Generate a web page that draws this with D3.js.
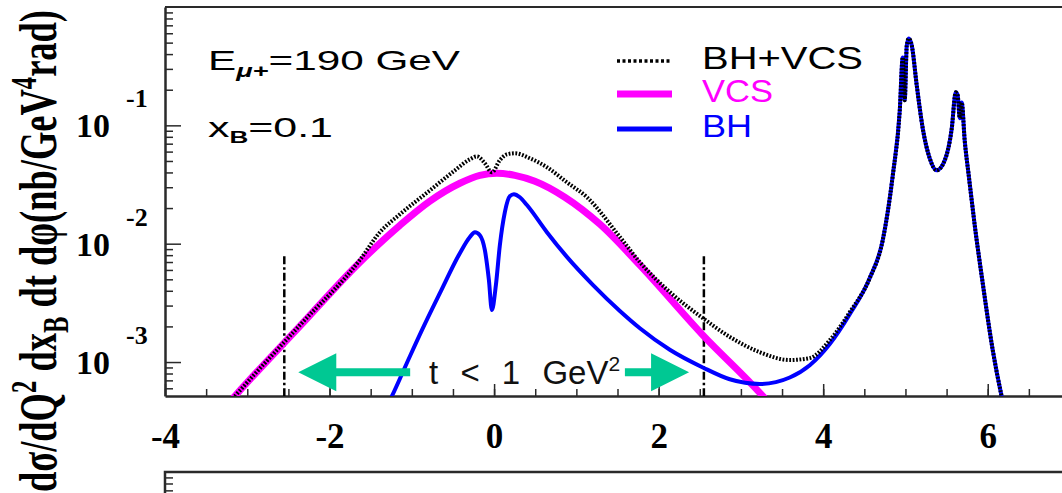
<!DOCTYPE html>
<html>
<head>
<meta charset="utf-8">
<script src="https://cdn.jsdelivr.net/npm/d3@7"></script>
<style>
  body { margin: 0; background: #fff; }
  svg { display: block; }
</style>
</head>
<body>
<svg id="chart" width="1062" height="493"></svg>
<script>
// axis ranges and ticks
const xDomain = [-4, 7];
const yDomain = [Math.pow(10, -3.287), 1];
const xTickValues = [-4, -2, 0, 2, 4, 6];
const yDecades = [-1, -2, -3];

// curves: [phi, cross section]
const vcs = [
  [-3.234, 4.42e-4], [-3.149, 5.16e-4], [-2.360, 2.01e-3], [-1.631, 6.98e-3],
  [-1.145, 1.43e-2], [-0.780, 2.29e-2], [-0.416, 3.24e-2], [-0.173, 3.78e-2],
  [0.034, 3.94e-2], [0.253, 3.78e-2], [0.496, 3.37e-2], [0.860, 2.47e-2],
  [1.286, 1.46e-2], [1.772, 6.59e-3], [2.537, 1.69e-3], [3.266, 5.16e-4],
  [3.351, 4.42e-4]
];

const bh = [
  [-1.303, 4.26e-4], [-1.242, 5.16e-4], [-1.060, 9.82e-4], [-0.877, 1.86e-3],
  [-0.659, 3.82e-3], [-0.416, 8.32e-3], [-0.294, 1.14e-2], [-0.233, 1.25e-2],
  [-0.173, 1.18e-2], [-0.112, 8.81e-3], [-0.063, 4.92e-3], [-0.027, 2.75e-3],
  [0.022, 4.47e-3], [0.070, 9.70e-3], [0.131, 1.85e-2], [0.192, 2.52e-2],
  [0.241, 2.62e-2], [0.313, 2.47e-2], [0.399, 2.12e-2], [0.642, 1.25e-2],
  [0.885, 7.73e-3], [1.200, 4.49e-3], [1.529, 2.70e-3], [1.772, 1.93e-3],
  [2.136, 1.27e-3], [2.537, 9.0e-4], [2.865, 7.15e-4], [3.230, 6.52e-4],
  [3.594, 7.4e-4], [3.837, 9.4e-4], [4.080, 1.42e-3], [4.323, 2.54e-3],
  [4.566, 5.12e-3], [4.724, 1.07e-2], [4.846, 3.78e-2], [4.931, 0.134],
  [4.967, 0.375], [4.991, 0.163], [5.016, 0.473], [5.040, 0.542],
  [5.077, 0.473], [5.137, 0.218], [5.210, 9.44e-2], [5.295, 5.27e-2],
  [5.380, 4.17e-2], [5.478, 5.07e-2], [5.563, 9.44e-2], [5.611, 0.190],
  [5.635, 0.179], [5.660, 0.115], [5.684, 0.156], [5.720, 7.47e-2],
  [5.769, 3.78e-2], [5.842, 1.43e-2], [5.939, 4.65e-3], [6.061, 1.26e-3],
  [6.170, 5.1e-4], [6.195, 4.26e-4]
];

const bhVcs = [
  [-3.234, 4.42e-4], [-3.149, 5.16e-4], [-2.360, 2.05e-3], [-1.631, 7.30e-3],
  [-1.388, 1.25e-2], [-1.145, 1.77e-2], [-0.780, 2.82e-2], [-0.476, 4.17e-2],
  [-0.294, 5.17e-2], [-0.209, 5.47e-2], [-0.112, 4.78e-2], [-0.027, 4.01e-2],
  [0.070, 5.07e-2], [0.155, 5.69e-2], [0.253, 5.81e-2], [0.435, 5.27e-2],
  [0.642, 4.43e-2], [0.885, 3.30e-2], [1.128, 2.47e-2], [1.529, 1.14e-2],
  [1.772, 6.98e-3], [2.136, 3.90e-3], [2.537, 2.35e-3], [2.865, 1.63e-3],
  [3.230, 1.21e-3], [3.594, 1.04e-3], [3.837, 1.08e-3], [4.080, 1.53e-3],
  [4.323, 2.64e-3], [4.566, 5.12e-3], [4.724, 1.07e-2], [4.846, 3.78e-2],
  [4.931, 0.134], [4.967, 0.375], [4.991, 0.163], [5.016, 0.473],
  [5.040, 0.542], [5.077, 0.473], [5.137, 0.218], [5.210, 9.44e-2],
  [5.295, 5.27e-2], [5.380, 4.17e-2], [5.478, 5.07e-2], [5.563, 9.44e-2],
  [5.611, 0.190], [5.635, 0.179], [5.660, 0.115], [5.684, 0.156],
  [5.720, 7.47e-2], [5.769, 3.78e-2], [5.842, 1.43e-2], [5.939, 4.65e-3],
  [6.061, 1.26e-3], [6.170, 5.1e-4], [6.195, 4.26e-4]
];

// t < 1 GeV^2 cut markers
const cutPhi = [-2.55, 2.55];
const cutTop = 7.85e-3;
const arrowLeft = [-1.02, -2.38];   // [tail, tip]
const arrowRight = [1.59, 2.37];
const arrowY = 8.2e-4;

const legendNames = ["BH+VCS", "VCS", "BH"];
const legendColors = ["#000", "#ff00ff", "#0000ff"];

const svg = d3.select("#chart");
const plotLeft = 165, plotRight = 1070, plotTop = 7, plotBottom = 396;

let x = d3.scaleLinear().domain(xDomain).range([plotLeft, plotRight]);
let y = d3.scaleLog().domain(yDomain).range([plotBottom, plotTop]);

const serif = "'Liberation Serif', 'Times New Roman', serif";
const sans = "'Liberation Sans', Arial, Helvetica, sans-serif";
const axisColor = "#2a2a2a";

svg.append("defs")
  .append("clipPath")
  .attr("id", "plotClip")
  .append("rect")
  .attr("x", plotLeft)
  .attr("y", plotTop)
  .attr("width", plotRight - plotLeft)
  .attr("height", plotBottom - plotTop);

// frame
svg.append("line")
  .attr("x1", plotLeft).attr("x2", plotRight)
  .attr("y1", plotTop).attr("y2", plotTop)
  .attr("stroke", axisColor).attr("stroke-width", 2);
svg.append("line")
  .attr("x1", plotRight).attr("x2", plotRight)
  .attr("y1", plotTop).attr("y2", plotBottom)
  .attr("stroke", axisColor).attr("stroke-width", 2);

// x axis: minor every 0.5, major every 2
let xMinor = d3.range(xDomain[0], xDomain[1] + 0.01, 0.5);
svg.append("g")
  .attr("transform", `translate(0,${plotBottom})`)
  .call(d3.axisBottom(x).tickValues(xMinor).tickSize(-7).tickSizeOuter(0).tickFormat(""))
  .call((g) => g.selectAll("line").attr("stroke", axisColor).attr("stroke-width", 1.5))
  .call((g) => g.select(".domain").attr("stroke", axisColor).attr("stroke-width", 2.5));

svg.append("g")
  .attr("transform", `translate(0,${plotBottom})`)
  .call(d3.axisBottom(x).tickValues(xTickValues).tickSize(-12).tickSizeOuter(0)
    .tickPadding(27).tickFormat((d) => String(d)))
  .call((g) => g.select(".domain").remove())
  .call((g) => g.selectAll("line").attr("stroke", axisColor).attr("stroke-width", 1.5))
  .call((g) => g.selectAll("text")
    .attr("fill", "#000")
    .style("font-family", serif)
    .style("font-weight", "bold")
    .style("font-size", "35px"));

// y axis: log, major at decades, minor at 2..9
let yMinor = [];
for (let k = -4; k <= -1; k++) {
  for (let m = 2; m <= 9; m++) {
    let v = m * Math.pow(10, k);
    if (v >= yDomain[0] && v <= yDomain[1]) yMinor.push(v);
  }
}
let yMajor = yDecades.map((k) => Math.pow(10, k));

svg.append("g")
  .attr("transform", `translate(${plotLeft},0)`)
  .call(d3.axisLeft(y).tickValues(yMinor).tickSize(-8).tickSizeOuter(0).tickFormat(""))
  .call((g) => g.selectAll("line").attr("stroke", axisColor).attr("stroke-width", 1.5))
  .call((g) => g.select(".domain").attr("stroke", axisColor).attr("stroke-width", 2.5));

svg.append("g")
  .attr("transform", `translate(${plotLeft},0)`)
  .call(d3.axisLeft(y).tickValues(yMajor).tickSize(-16).tickSizeOuter(0).tickFormat(""))
  .call((g) => g.select(".domain").remove())
  .call((g) => g.selectAll("line").attr("stroke", axisColor).attr("stroke-width", 1.5));

let yLabels = svg.append("g")
  .attr("font-family", serif)
  .attr("font-weight", "bold")
  .attr("fill", "#000");

yLabels.selectAll("text.base")
  .data(yDecades)
  .enter()
  .append("text")
  .attr("class", "base")
  .attr("x", 110)
  .attr("y", (d) => y(Math.pow(10, d)) + 12)
  .attr("text-anchor", "end")
  .attr("font-size", 34)
  .text("10");

yLabels.selectAll("text.exp")
  .data(yDecades)
  .enter()
  .append("text")
  .attr("class", "exp")
  .attr("x", 126)
  .attr("y", (d) => y(Math.pow(10, d)) - 18)
  .attr("font-size", 26)
  .text((d) => String(d));

// y title
let yTitle = svg.append("text")
  .attr("transform", "translate(56,251) rotate(-90) scale(1,1.45)")
  .attr("text-anchor", "middle")
  .attr("font-family", serif)
  .attr("font-weight", "bold")
  .attr("font-size", 37)
  .attr("fill", "#000")
  .attr("textLength", 482)
  .attr("lengthAdjust", "spacingAndGlyphs");
yTitle.append("tspan").text("dσ/dQ");
yTitle.append("tspan").attr("font-size", 25).attr("dy", -14).text("2");
yTitle.append("tspan").attr("dy", 14).text(" dx");
yTitle.append("tspan").attr("font-size", 25).attr("dy", 8).text("B");
yTitle.append("tspan").attr("dy", -8).text(" dt dφ(nb/GeV");
yTitle.append("tspan").attr("font-size", 25).attr("dy", -14).text("4");
yTitle.append("tspan").attr("dy", 14).text("rad)");

// lower panel frame
svg.append("rect")
  .attr("x", plotLeft).attr("y", 472)
  .attr("width", plotRight - plotLeft).attr("height", 100)
  .attr("fill", "none")
  .attr("stroke", axisColor).attr("stroke-width", 2.5);
let yLow = d3.scaleLog().domain([1e-3, 1]).range([472 + 3 * 118.5, 472]);
svg.append("g")
  .attr("transform", `translate(${plotLeft},0)`)
  .call(d3.axisLeft(yLow).tickValues([0.9, 0.8, 0.7, 0.6]).tickSize(-8).tickSizeOuter(0).tickFormat(""))
  .call((g) => g.select(".domain").remove())
  .call((g) => g.selectAll("line").attr("stroke", axisColor).attr("stroke-width", 1.5));

// curves
let plot = svg.append("g").attr("clip-path", "url(#plotClip)");
let line = d3.line()
  .x((d) => x(d[0]))
  .y((d) => y(d[1]))
  .curve(d3.curveMonotoneX);

// cut lines
plot.selectAll("line.cut")
  .data(cutPhi)
  .enter()
  .append("line")
  .attr("class", "cut")
  .attr("x1", (d) => x(d)).attr("x2", (d) => x(d))
  .attr("y1", y(cutTop)).attr("y2", plotBottom)
  .attr("stroke", "#000")
  .attr("stroke-width", 2.5)
  .attr("stroke-dasharray", "8,3,2.5,3");

plot.append("path")
  .datum(vcs)
  .attr("d", line)
  .attr("fill", "none")
  .attr("stroke", "#ff00ff")
  .attr("stroke-width", 7);

plot.append("path")
  .datum(bh)
  .attr("d", line)
  .attr("fill", "none")
  .attr("stroke", "#0000ff")
  .attr("stroke-width", 4);

plot.append("path")
  .datum(bhVcs)
  .attr("d", line)
  .attr("fill", "none")
  .attr("stroke", "#000")
  .attr("stroke-width", 4)
  .attr("stroke-dasharray", "1.8,1.6");

// arrows
function arrowPath(tail, tip) {
  let xt = x(tip), xs = x(tail), yc = y(arrowY);
  let dir = xs > xt ? 1 : -1;
  let head = 38, half = 19, shaft = 4;
  let xb = xt + dir * head;
  let p = d3.path();
  p.moveTo(xt, yc);
  p.lineTo(xb, yc - half);
  p.lineTo(xb, yc - shaft);
  p.lineTo(xs, yc - shaft);
  p.lineTo(xs, yc + shaft);
  p.lineTo(xb, yc + shaft);
  p.lineTo(xb, yc + half);
  p.closePath();
  return p.toString();
}
svg.selectAll("path.arrow")
  .data([arrowLeft, arrowRight])
  .enter()
  .append("path")
  .attr("class", "arrow")
  .attr("d", (d) => arrowPath(d[0], d[1]))
  .attr("fill", "#00c893");

let cutText = svg.append("text")
  .attr("x", x(-0.79))
  .attr("y", y(arrowY) + 12)
  .attr("font-family", sans)
  .attr("font-size", 33)
  .attr("fill", "#111")
  .attr("word-spacing", 13);
cutText.append("tspan").text("t < 1 GeV");
cutText.append("tspan").attr("font-size", 21).attr("dy", -13).text("2");

// kinematics labels
let eText = svg.append("text")
  .attr("x", 208).attr("y", 70)
  .attr("font-family", sans)
  .attr("font-size", 28)
  .attr("fill", "#000")
  .attr("textLength", 252)
  .attr("lengthAdjust", "spacingAndGlyphs");
eText.append("tspan").text("E");
eText.append("tspan").attr("font-size", 18).attr("font-style", "italic").attr("font-weight", "bold").attr("dy", 7).text("μ+");
eText.append("tspan").attr("dy", -7).text("=190 GeV");

let xbText = svg.append("text")
  .attr("x", 208).attr("y", 137)
  .attr("font-family", sans)
  .attr("font-size", 28)
  .attr("fill", "#000")
  .attr("textLength", 125)
  .attr("lengthAdjust", "spacingAndGlyphs");
xbText.append("tspan").text("x");
xbText.append("tspan").attr("font-size", 17).attr("font-weight", "bold").attr("dy", 6).text("B");
xbText.append("tspan").attr("dy", -6).text("=0.1");

// legend
const legendY = [61, 94, 129];
const legendWidths = [161, 71, 50];
let legend = svg.append("g");
legend.selectAll("line")
  .data(legendNames)
  .enter()
  .append("line")
  .attr("x1", 617).attr("x2", 672)
  .attr("y1", (d, i) => legendY[i]).attr("y2", (d, i) => legendY[i])
  .attr("stroke", (d, i) => legendColors[i])
  .attr("stroke-width", (d, i) => (i === 0 ? 3.5 : i === 1 ? 7 : 5))
  .attr("stroke-dasharray", (d, i) => (i === 0 ? "3,2.5" : null));
legend.selectAll("text")
  .data(legendNames)
  .enter()
  .append("text")
  .attr("x", 702)
  .attr("y", (d, i) => legendY[i] + 8)
  .attr("font-family", sans)
  .attr("font-size", 32)
  .attr("fill", (d, i) => legendColors[i])
  .attr("textLength", (d, i) => legendWidths[i])
  .attr("lengthAdjust", "spacingAndGlyphs")
  .text((d) => d);
</script>
</body>
</html>
